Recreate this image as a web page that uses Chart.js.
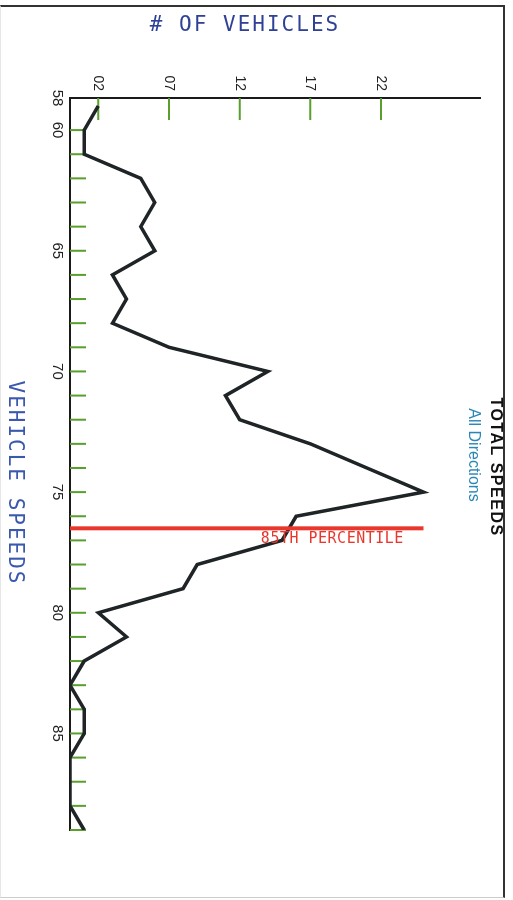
<!DOCTYPE html>
<html>
<head>
<meta charset="utf-8">
<script src="https://cdn.jsdelivr.net/npm/chart.js@4.4.1/dist/chart.umd.min.js"></script>
<style>
  html, body { margin: 0; padding: 0; background: #fff; overflow: hidden; }
  /* the chart is laid out normally (900 x 513) and then turned a quarter clockwise */
  #turn { position: absolute; left: 0; top: 0; width: 900px; height: 513px;
          transform-origin: 0 0; transform: translate(513px, 0) rotate(90deg); }
  #frame { position: absolute; left: 0; top: 5px; width: 502px; height: 890px;
           border-top: 2px solid #333; border-right: 2px solid #333;
           border-bottom: 1px solid #ccc; border-left: 1px solid #e6e6e6; pointer-events: none; }
</style>
</head>
<body>
<div id="turn"><canvas id="speedChart" width="900" height="513"></canvas></div>
<div id="frame"></div>
<script>
// Vehicle counts per speed (mph)
const speeds = [59, 60, 61, 62, 63, 64, 65, 66, 67, 68, 69, 70, 71, 72, 73, 74,
                75, 76, 77, 78, 79, 80, 81, 82, 83, 84, 85, 86, 87, 88, 89];
const vehicles = [2, 1, 1, 5, 6, 5, 6, 3, 4, 3, 7, 14, 11, 12, 17, 21,
                  25, 16, 15, 9, 8, 2, 4, 1, 0, 1, 1, 0, 0, 0, 1];

const speedTickValues = [58.67, 60, 65, 70, 75, 80, 85];
const speedTickLabels = ['58', '60', '65', '70', '75', '80', '85'];
const vehicleTickValues = [2, 7, 12, 17, 22];
const vehicleTickLabels = ['02', '07', '12', '17', '22'];
const vehicleAxisMax = 29;

// 85th percentile marker
const percentileSpeed = 76.5;
const percentileTop = 25;

const GREEN = '#5a9e2e';
const RED = '#e8382d';

function drawText(ctx, text, x, y, font, color, spacing, angle, align, baseline) {
  ctx.save();
  ctx.translate(x, y);
  if (angle) ctx.rotate(angle);
  ctx.font = font;
  ctx.fillStyle = color;
  ctx.letterSpacing = spacing || '0px';
  ctx.textAlign = align || 'center';
  ctx.textBaseline = baseline || 'middle';
  ctx.fillText(text, 0, 0);
  ctx.restore();
}

const sideTexts = {
  id: 'sideTexts',
  beforeDatasetsDraw(chart) {
    const { ctx, scales: { x, y } } = chart;
    ctx.save();
    ctx.strokeStyle = GREEN;
    ctx.lineWidth = 2;
    ctx.beginPath();
    // small inside ticks on every speed
    for (let s = 60; s <= speeds[speeds.length - 1]; s++) {
      const px = x.getPixelForValue(s);
      ctx.moveTo(px, y.bottom);
      ctx.lineTo(px, y.bottom - 16);
    }
    vehicleTickValues.forEach(v => {
      const py = y.getPixelForValue(v);
      ctx.moveTo(x.left, py);
      ctx.lineTo(x.left + 22, py);
    });
    ctx.stroke();
    ctx.restore();
  },
  afterDraw(chart) {
    const { ctx, scales: { x, y } } = chart;
    const mono = '"DejaVu Sans Mono", monospace';
    drawText(ctx, '# OF VEHICLES', 26, 268, '21px ' + mono, '#2e4196', '2px', -Math.PI / 2);
    drawText(ctx, 'VEHICLE SPEEDS', 483, 499, '21px ' + mono, '#3a58ad', '2px');
    drawText(ctx, 'TOTAL SPEEDS', 467, 18, 'bold 16px "Liberation Sans", Arial, sans-serif', '#111', '1.5px');
    drawText(ctx, 'All Directions', 455, 40, '16px "Liberation Sans", Arial, sans-serif', '#2b86b5', '0px');
    drawText(ctx, '85TH PERCENTILE', x.getPixelForValue(percentileSpeed) + 3, y.getPixelForValue(13.5),
             '15px ' + mono, RED, '0.5px', -Math.PI / 2, 'left', 'top');
  }
};

new Chart(document.getElementById('speedChart'), {
  type: 'line',
  data: {
    datasets: [
      {
        label: '85th percentile',
        data: [{ x: percentileSpeed, y: 0 }, { x: percentileSpeed, y: percentileTop }],
        borderColor: RED,
        borderWidth: 4,
        pointRadius: 0,
        order: 0
      },
      {
        label: 'Total speeds',
        data: speeds.map((s, i) => ({ x: s, y: vehicles[i] })),
        borderColor: '#1f2427',
        borderWidth: 3.5,
        pointRadius: 0,
        tension: 0,
        order: 1
      }
    ]
  },
  options: {
    responsive: false,
    animation: false,
    layout: { padding: { top: 33, right: 70, left: 0, bottom: 0 } },
    plugins: { legend: { display: false }, tooltip: { enabled: false } },
    scales: {
      x: {
        type: 'linear',
        min: speedTickValues[0],
        max: speeds[speeds.length - 1],
        grid: { display: false, drawTicks: false },
        border: { display: true, color: '#1a1a1a', width: 2 },
        afterBuildTicks: s => { s.ticks = speedTickValues.map(v => ({ value: v })); },
        afterFit: s => { s.height = 70; },
        ticks: {
          autoSkip: false, maxRotation: 0, padding: 4, color: '#222',
          font: { family: 'Liberation Sans', size: 15 },
          callback: (v, i) => speedTickLabels[i]
        }
      },
      y: {
        min: 0,
        max: vehicleAxisMax,
        grid: { display: false, drawTicks: false },
        border: { display: true, color: '#1a1a1a', width: 2 },
        afterBuildTicks: s => { s.ticks = vehicleTickValues.map(v => ({ value: v })); },
        afterFit: s => { s.width = 98; },
        ticks: {
          autoSkip: false, padding: 7, color: '#222',
          font: { family: 'Liberation Sans', size: 14 },
          callback: (v, i) => vehicleTickLabels[i]
        }
      }
    }
  },
  plugins: [sideTexts]
});
</script>
</body>
</html>
